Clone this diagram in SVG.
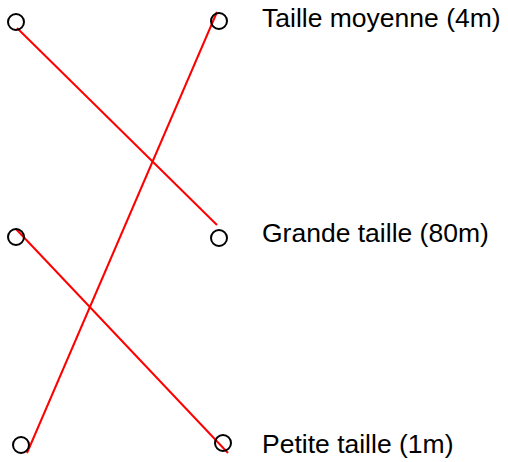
<svg xmlns="http://www.w3.org/2000/svg" width="508" height="462" viewBox="0 0 508 462">
<style>
.dot{fill:none;stroke:#000;stroke-width:2}
.lnk{stroke:#ff0000;stroke-width:2;fill:none}
.lbl{font-family:"Liberation Sans",Arial,sans-serif;font-size:26.5px;fill:#000}
</style>
<rect width="508" height="462" fill="#fff"/>
<g id="connectors">
<line class="lnk" x1="17" y1="28" x2="217" y2="225"/>
<line class="lnk" x1="217" y1="12" x2="27" y2="453"/>
<line class="lnk" x1="16" y1="229" x2="228" y2="453"/>
</g>
<g id="left1"><circle class="dot" cx="16" cy="22" r="8"/></g>
<g id="left2"><circle class="dot" cx="16" cy="237" r="8"/></g>
<g id="left3"><circle class="dot" cx="21" cy="445" r="8"/></g>
<g id="right1"><circle class="dot" cx="219" cy="21" r="8"/><text class="lbl" x="262" y="27">Taille moyenne (4m)</text></g>
<g id="right2"><circle class="dot" cx="219" cy="238" r="8"/><text class="lbl" x="262" y="242">Grande taille (80m)</text></g>
<g id="right3"><circle class="dot" cx="223" cy="443" r="8"/><text class="lbl" x="262" y="453">Petite taille (1m)</text></g>
</svg>
